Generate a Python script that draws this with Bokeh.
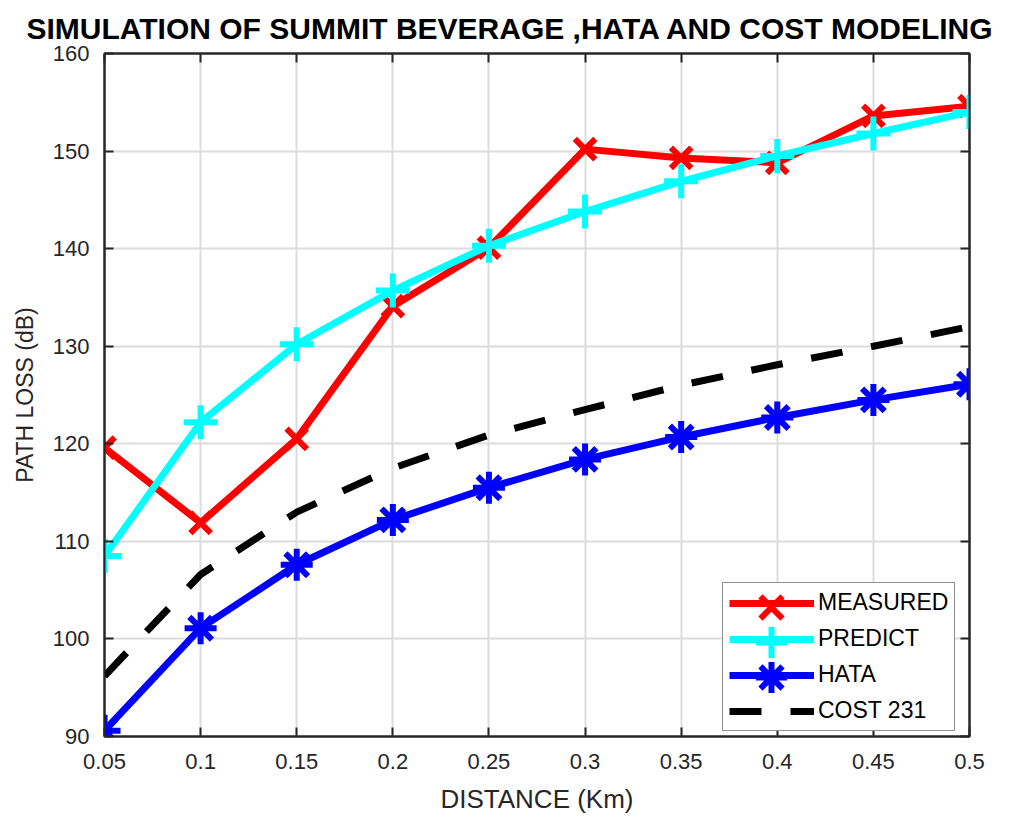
from bokeh.plotting import figure
from bokeh.models import LinearAxis, FixedTicker, Range1d, Legend, LegendItem
from bokeh.embed import file_html
from bokeh.resources import INLINE

distance = [0.05, 0.1, 0.15, 0.2, 0.25, 0.3, 0.35, 0.4, 0.45, 0.5]
measured = [119.6, 111.9, 120.5, 134.1, 140.1, 150.2, 149.3, 148.8, 153.6, 154.6]
predict = [108.5, 122.2, 130.2, 135.7, 140.3, 143.8, 146.9, 149.5, 151.8, 154.0]
hata = [90.6, 101.1, 107.6, 112.2, 115.5, 118.4, 120.7, 122.7, 124.5, 126.1]
cost231 = [96.2, 106.6, 113.0, 117.5, 120.9, 123.5, 126.0, 128.1, 130.0, 132.0]

series_names = ["MEASURED", "PREDICT", "HATA", "COST 231"]
x_ticks = [0.05, 0.1, 0.15, 0.2, 0.25, 0.3, 0.35, 0.4, 0.45, 0.5]
x_tick_labels = ["0.05", "0.1", "0.15", "0.2", "0.25", "0.3", "0.35", "0.4", "0.45", "0.5"]
y_ticks = [90, 100, 110, 120, 130, 140, 150, 160]

FONT = "Liberation Sans"
AX = "#262626"

p = figure(width=1016, height=819, output_backend="svg", toolbar_location=None,
           x_range=Range1d(0.05, 0.5), y_range=Range1d(90, 160),
           title="SIMULATION OF SUMMIT BEVERAGE ,HATA AND COST MODELING",
           min_border_left=104, min_border_right=47, min_border_top=52, min_border_bottom=83)

p.title.text_font = FONT
p.title.text_font_size = "30px"
p.title.text_font_style = "bold"
p.title.text_color = "#000000"
p.title.align = "left"
p.title.offset = -78
p.title.standoff = 18

p.outline_line_color = AX
p.outline_line_width = 2

for ax in (p.xaxis[0], p.yaxis[0]):
    ax.axis_line_color = AX
    ax.axis_line_width = 2
    ax.major_tick_line_color = AX
    ax.major_tick_line_width = 2
    ax.major_tick_in = 9
    ax.major_tick_out = 0
    ax.minor_tick_line_color = None
    ax.major_label_text_font = FONT
    ax.major_label_text_font_size = "22px"
    ax.major_label_text_color = AX
    ax.axis_label_text_font = FONT
    ax.axis_label_text_font_style = "normal"
    ax.axis_label_text_color = AX

p.xaxis.axis_label_text_font_size = "26px"
p.yaxis.axis_label_text_font_size = "23px"
p.xaxis.ticker = FixedTicker(ticks=x_ticks)
p.xaxis.major_label_overrides = {t: l for t, l in zip(x_ticks, x_tick_labels)}
p.yaxis.ticker = FixedTicker(ticks=y_ticks)
p.xaxis.axis_label = "DISTANCE (Km)"
p.yaxis.axis_label = "PATH LOSS (dB)"
p.xaxis.major_label_standoff = 17
p.yaxis.major_label_standoff = 15
p.xaxis.axis_label_standoff = 12
p.yaxis.axis_label_standoff = 12

for loc, tk in (("right", y_ticks), ("above", x_ticks)):
    a = LinearAxis(ticker=FixedTicker(ticks=tk))
    a.major_label_text_color = None
    a.major_label_text_font_size = "0px"
    a.major_label_standoff = 0
    a.axis_line_color = AX
    a.axis_line_width = 2
    a.major_tick_line_color = AX
    a.major_tick_line_width = 2
    a.major_tick_in = 9
    a.major_tick_out = 0
    a.minor_tick_line_color = None
    p.add_layout(a, loc)

p.grid.grid_line_color = "#dcdcdc"
p.grid.grid_line_width = 2
p.xgrid.ticker = FixedTicker(ticks=x_ticks)
p.ygrid.ticker = FixedTicker(ticks=y_ticks)

LW = 7
MLW = 6
l1 = p.line(distance, measured, line_color="#FF0000", line_width=LW)
m1 = p.scatter(distance, measured, marker="x", size=29, line_color="#FF0000", line_width=MLW)
l2 = p.line(distance, predict, line_color="#00FFFF", line_width=LW)
m2 = p.scatter(distance, predict, marker="cross", size=34, line_color="#00FFFF", line_width=MLW)
l3 = p.line(distance, hata, line_color="#0000FF", line_width=LW)
m3 = p.scatter(distance, hata, marker="asterisk", size=32, line_color="#0000FF", line_width=MLW)
l4 = p.line(distance, cost231, line_color="#000000", line_width=LW, line_dash="32 29")

# legend 1: lines and labels (frame-relative screen placement)
PAD = 6
GH = 26
SP = 9
PITCH = GH + SP
GW = 85
BOX_LEFT = 618
BOX_BOTTOM = 5
n_items = len(series_names)
box_h = 2 * PAD + n_items * GH + (n_items - 1) * SP
leg1 = Legend(items=[LegendItem(label=n, renderers=[r]) for n, r in zip(series_names, [l1, l2, l3, l4])],
              location=(BOX_LEFT, BOX_BOTTOM), padding=PAD, spacing=SP, margin=0,
              glyph_width=GW, glyph_height=GH, label_standoff=4,
              label_text_font=FONT, label_text_font_size="23px", label_text_color="#000000",
              label_height=GH,
              border_line_color=AX, border_line_width=1.5,
              background_fill_color="white", background_fill_alpha=1.0)
p.add_layout(leg1)

# one transparent legend per marker, centred on the matching legend-1 glyph
GH2 = 78
center_x = BOX_LEFT + PAD + GW / 2
for i, r in enumerate([m1, m2, m3]):
    cy = BOX_BOTTOM + box_h - PAD - GH / 2 - i * PITCH
    lg = Legend(items=[LegendItem(label=" ", renderers=[r])],
                location=(center_x - GH2 / 2, cy - GH2 / 2), padding=0, spacing=0, margin=0,
                glyph_width=GH2, glyph_height=GH2, label_standoff=0,
                label_text_font_size="1px", label_height=GH2,
                border_line_color=None, background_fill_alpha=0.0)
    p.add_layout(lg)

open("out.html", "w").write(file_html(p, INLINE))
